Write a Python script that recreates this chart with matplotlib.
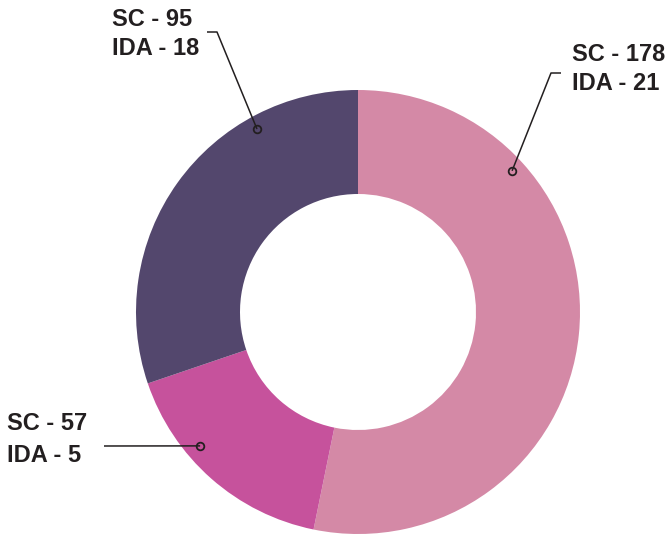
import numpy as np
import matplotlib
matplotlib.use("Agg")
import matplotlib.pyplot as plt

# Data
sc_values = [178, 57, 95]
ida_values = [21, 5, 18]
colors = ["#D489A6", "#C6529C", "#53476D"]

W, H = 667, 535
fig = plt.figure(figsize=(W / 100, H / 100), dpi=100)
ax = fig.add_axes([0, 0, 1, 1])

cx, cy = 358, H - 312
R = 222
ring = 104

sizes = [s + i for s, i in zip(sc_values, ida_values)]
wedges, _ = ax.pie(sizes, radius=R, center=(cx, cy), startangle=90,
                   counterclock=False, colors=colors,
                   wedgeprops=dict(width=ring, linewidth=0))
ax.set_xlim(0, W)
ax.set_ylim(0, H)
ax.set_aspect("equal")
ax.axis("off")

ink = "#231f20"
font = dict(family="Liberation Sans", fontweight="bold", fontsize=17, color=ink)

# label layout: dot angle (deg), dot radius, leader path (pixel coords), text x, baselines
layouts = [
    dict(ang=42.5, r=209, path=[(551, 73), (561, 73)], tx=572, ty=(61, 90)),
    dict(ang=220.3, r=207, path=[(104, 446)], tx=7, ty=(430, 462)),
    dict(ang=118.9, r=209, path=[(217, 32), (207, 32)], tx=112, ty=(26, 55)),
]

for sc, ida, lay in zip(sc_values, ida_values, layouts):
    a = np.deg2rad(lay["ang"])
    dx, dy = cx + lay["r"] * np.cos(a), cy + lay["r"] * np.sin(a)
    xs = [dx] + [p[0] for p in lay["path"]]
    ys = [dy] + [H - p[1] for p in lay["path"]]
    ax.plot(xs, ys, color=ink, lw=1.1, solid_capstyle="butt", zorder=3)
    ax.plot([dx], [dy], marker="o", ms=5.5, mfc="none", mec=ink, mew=1.3, zorder=4)
    ax.text(lay["tx"], H - lay["ty"][0], f"SC - {sc}", va="baseline", ha="left", **font)
    ax.text(lay["tx"], H - lay["ty"][1], f"IDA - {ida}", va="baseline", ha="left", **font)

fig.savefig("out.png", dpi=100)
